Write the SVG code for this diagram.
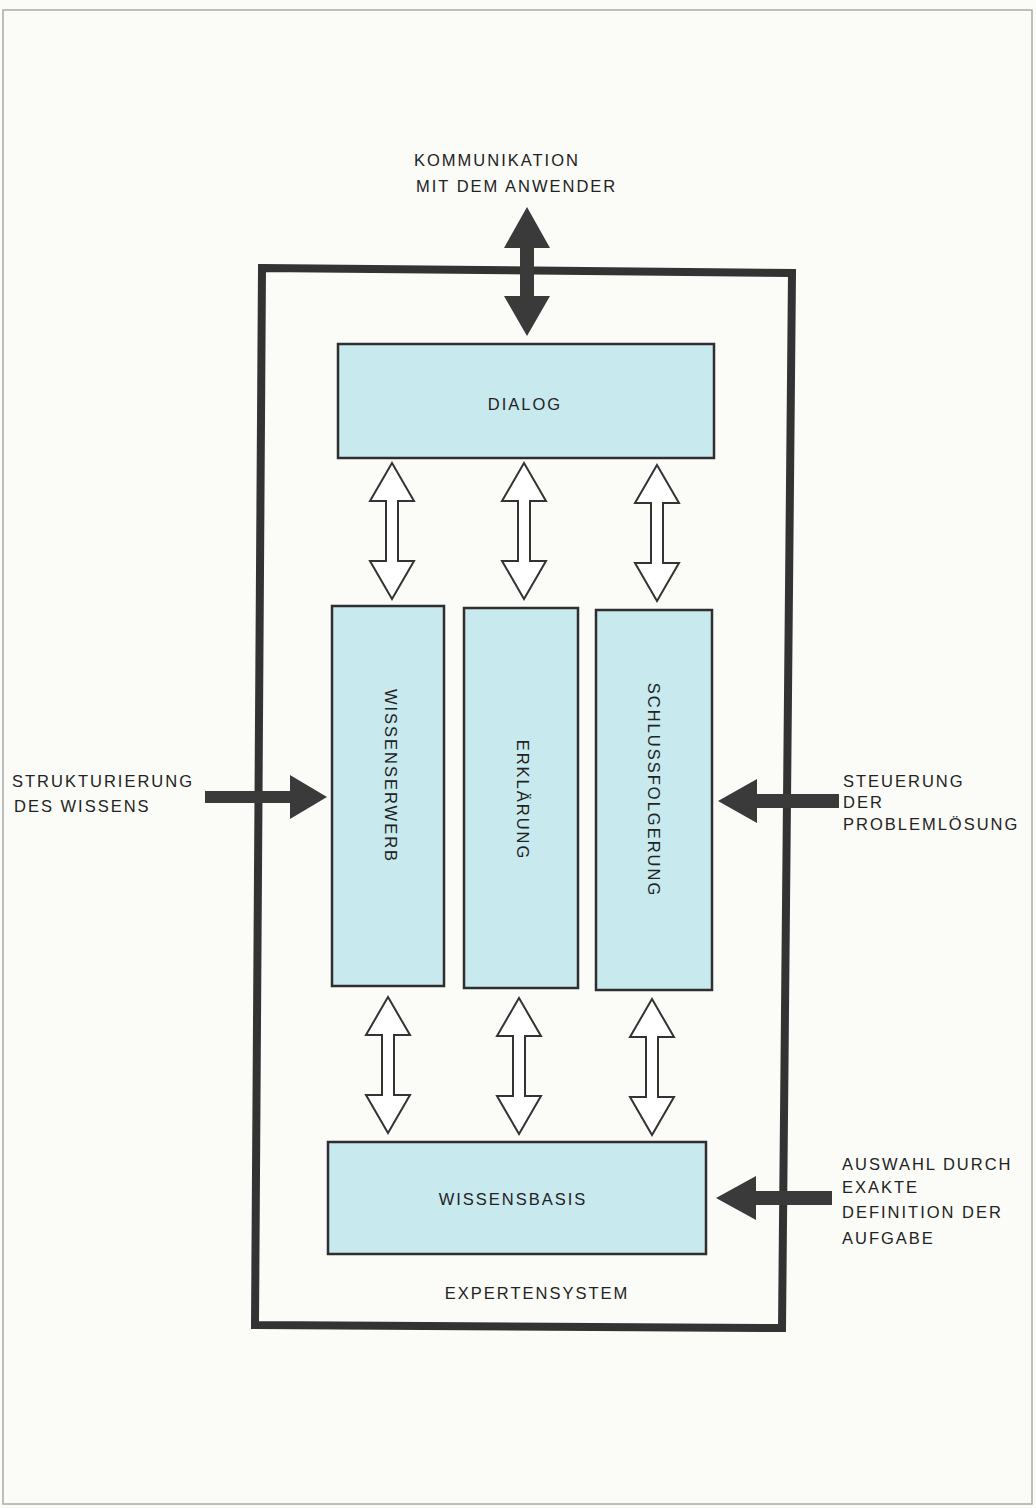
<svg xmlns="http://www.w3.org/2000/svg" width="1036" height="1508" viewBox="0 0 1036 1508">
<style>
.t{font-family:"Liberation Sans","DejaVu Sans",sans-serif;font-size:16.5px;fill:#222;letter-spacing:2px}
.box{fill:#c8e9ee;stroke:#2f2f2f;stroke-width:2.5}
.hol{fill:#ffffff;stroke:#333;stroke-width:2}
.sol{fill:#3a3a3a}
</style>
<defs>
<path id="hollow" d="M0,0 L22,38 L6,38 L6,98 L22,98 L0,136 L-22,98 L-6,98 L-6,38 L-22,38 Z"/>
</defs>
<rect x="0" y="0" width="1036" height="1508" fill="#fbfbf8"/>
<rect x="3" y="10" width="1029" height="1494" fill="none" stroke="#aaa" stroke-width="1.5"/>

<g id="expertensystem">
<polygon points="262,268 792,273 782,1328 255,1325" fill="none" stroke="#333" stroke-width="8" stroke-linejoin="miter"/>
<text class="t" x="537" y="1299" text-anchor="middle">EXPERTENSYSTEM</text>
</g>

<g id="dialog">
<rect class="box" x="338" y="344" width="376" height="114"/>
<text class="t" x="525" y="410" text-anchor="middle">DIALOG</text>
</g>
<g id="wissenserwerb">
<rect class="box" x="332" y="606" width="112" height="380"/>
<text class="t" transform="translate(385,776) rotate(90)" text-anchor="middle">WISSENSERWERB</text>
</g>
<g id="erklaerung">
<rect class="box" x="464" y="608" width="114" height="380"/>
<text class="t" transform="translate(517,800) rotate(90)" text-anchor="middle">ERKLÄRUNG</text>
</g>
<g id="schlussfolgerung">
<rect class="box" x="596" y="610" width="116" height="380"/>
<text class="t" transform="translate(648,790) rotate(90)" text-anchor="middle">SCHLUSSFOLGERUNG</text>
</g>
<g id="wissensbasis">
<rect class="box" x="328" y="1142" width="378" height="112"/>
<text class="t" x="513" y="1205" text-anchor="middle">WISSENSBASIS</text>
</g>

<g id="labels">
<text class="t" x="414" y="166">KOMMUNIKATION</text>
<text class="t" x="416" y="192">MIT DEM ANWENDER</text>
<text class="t" x="12" y="787">STRUKTURIERUNG</text>
<text class="t" x="14" y="812">DES WISSENS</text>
<text class="t" x="843" y="787">STEUERUNG</text>
<text class="t" x="843" y="808">DER</text>
<text class="t" x="843" y="830">PROBLEMLÖSUNG</text>
<text class="t" x="842" y="1170">AUSWAHL DURCH</text>
<text class="t" x="842" y="1193">EXAKTE</text>
<text class="t" x="842" y="1218">DEFINITION DER</text>
<text class="t" x="842" y="1244">AUFGABE</text>
</g>

<g id="connectors">
<path class="sol" d="M527,207 L550,248 L534,248 L534,296 L550,296 L527,336 L504,296 L520,296 L520,248 L504,248 Z"/>
<use href="#hollow" class="hol" x="392" y="463"/>
<use href="#hollow" class="hol" x="524" y="463"/>
<use href="#hollow" class="hol" x="657" y="465"/>
<use href="#hollow" class="hol" x="388" y="997"/>
<use href="#hollow" class="hol" x="519" y="998"/>
<use href="#hollow" class="hol" x="652" y="999"/>
<path class="sol" d="M205,791 L290,791 L290,775 L327,797 L290,819 L290,803 L205,803 Z"/>
<path class="sol" d="M839,794 L757,794 L757,779 L718,801 L757,823 L757,808 L839,808 Z"/>
<path class="sol" d="M832,1191 L756,1191 L756,1176 L716,1198 L756,1220 L756,1205 L832,1205 Z"/>
</g>
</svg>
